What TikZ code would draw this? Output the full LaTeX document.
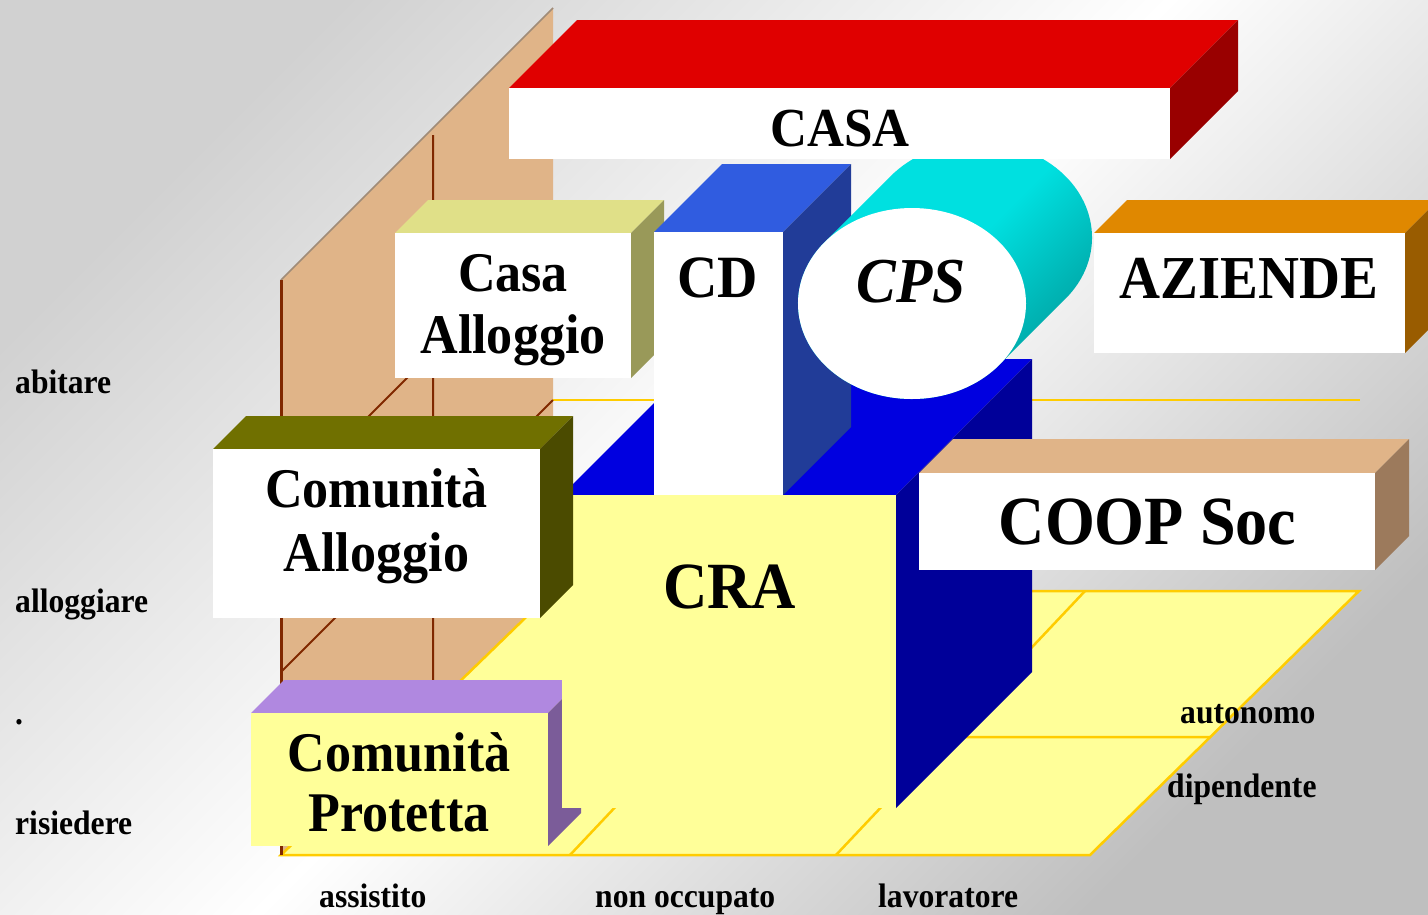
\documentclass[tikz,border=0pt]{standalone}
\usepackage{fontspec}
\setmainfont{Liberation Serif}[FakeStretch=0.93]
\usepackage{tikz}
\definecolor{cuoio}{HTML}{E0B488}
\definecolor{cuoioscuro}{HTML}{9C7A5C}
\definecolor{bordomuro}{HTML}{A08C78}
\definecolor{mattone}{HTML}{802800}
\definecolor{paglia}{HTML}{FFFF99}
\definecolor{oro}{HTML}{FFCC00}
\definecolor{rosso}{HTML}{E00000}
\definecolor{rossoscuro}{HTML}{990000}
\definecolor{blu}{HTML}{305CE0}
\definecolor{bluscuro}{HTML}{213C98}
\definecolor{elettrico}{HTML}{0000E0}
\definecolor{notte}{HTML}{000099}
\definecolor{ciano}{HTML}{00E0E0}
\definecolor{petrolio}{HTML}{009A9A}
\definecolor{limone}{HTML}{E0E088}
\definecolor{oliva}{HTML}{999959}
\definecolor{muschio}{HTML}{707000}
\definecolor{muschioscuro}{HTML}{4B4B00}
\definecolor{lilla}{HTML}{B088E0}
\definecolor{viola}{HTML}{7B5C99}
\definecolor{arancio}{HTML}{E08800}
\definecolor{ruggine}{HTML}{995C00}
\tikzset{
  grande/.style 2 args={inner sep=0pt, align=center, font=\fontsize{#1}{#2}\selectfont\bfseries},
  livello/.style={inner sep=0pt, anchor=base west, font=\fontsize{34}{38}\selectfont\bfseries},
}

\begin{document}
\begin{tikzpicture}[x=1pt, y=-1pt]
    \def\blocco#1#2#3#4#5#6#7#8{
      \fill [#7] (#1,#2) -- (#1+#5,#2-#5) -- (#3+#5,#2-#5) -- (#3,#2) -- cycle ;
      \fill [#8] (#3,#2) -- (#3+#5,#2-#5) -- (#3+#5,#4-#5) -- (#3,#4) -- cycle ;
      \fill [#6] (#1,#2) rectangle (#3,#4) ;
    }
    \useasboundingbox (0,0) rectangle (1428,914) ;
    \shade [top color=gray!36, bottom color=gray!50, middle color=white, shading angle=45] (0,0) rectangle (1428,914) ;
    \fill [cuoio] (281,855) -- (281,280) -- (553,8) -- (553,591) -- cycle ;
    \draw [bordomuro, line width=1.5pt] (281,280) -- (553,8) ;
    \draw [oro, line width=2.5pt, fill=paglia] (281,855) -- (1090,855) -- (1359,591) -- (553,591) -- cycle ;
    \draw [oro, line width=2.5pt] (570,855) -- (819,591) (836,855) -- (1085,591) (402,737) -- (1210,737) ;
    \draw [oro, line width=2.5pt] (553,400) -- (1360,400) ;
    \draw [mattone, line width=3pt] (281,280) -- (281,855) ;
    \draw [mattone, line width=2pt] (433,135) -- (433,706) (281,504) -- (553,232) (281,672) -- (553,400) ;
    \blocco{251}{713}{548}{846}{33}{paglia}{lilla}{viola}
    \blocco{395}{233}{631}{378}{33}{white}{limone}{oliva}
    \blocco{562}{495}{896}{808}{136}{paglia}{elettrico}{notte}
    \blocco{654}{232}{783}{495}{68}{white}{blu}{bluscuro}
    \shade [top color=ciano, bottom color=petrolio, middle color=ciano, shading angle=45]
      (890.7,176.1) arc [start angle=220, end angle=400, x radius=114, y radius=95.5]
      -- (999.3,364.9) arc [start angle=40, end angle=220, x radius=114, y radius=95.5] -- cycle ;
    \fill [white] (912,303.5) ellipse [x radius=114, y radius=95.5] ;
    \blocco{509}{88}{1170}{159}{68}{white}{rosso}{rossoscuro}
    \blocco{213}{449}{540}{618}{33}{white}{muschio}{muschioscuro}
    \blocco{1094}{233}{1405}{353}{33}{white}{arancio}{ruggine}
    \blocco{919}{473}{1375}{570}{34}{white}{cuoio}{cuoioscuro}
    \node [grande={55}{60}] (casa) at (840,128.5) {CASA} ;
    \node [grande={60}{64}] (cd) at (718,277.5) {CD} ;
    \node [grande={64}{70}] (cps) at (911,281.5) {\itshape CPS} ;
    \node [grande={61}{66}] (aziende) at (1249,278) {AZIENDE} ;
    \node [grande={69}{74}] (coop) at (1147.5,521.5) {COOP Soc} ;
    \node [grande={66}{72}] (cra) at (729.5,587) {CRA} ;
    \node [grande={56}{62}] (casaall) at (513,310) {Casa\\Alloggio} ;
    \node [grande={56}{64}] (comall) at (376.5,526.5) {Comunità\\Alloggio} ;
    \node [grande={56}{60}] (comprot) at (399,782.5) {Comunità\\Protetta} ;
    \foreach \t/\y [count=\n] in {abitare/393, alloggiare/612, ./724, risiedere/834} {
      \node [livello] (liv\n) at (15,\y) {\t} ;
    }
    \foreach \t/\x [count=\n] in {assistito/319, non occupato/595, lavoratore/878} {
      \node [livello] (stato\n) at (\x,907) {\t} ;
    }
    \node [livello] (auto) at (1180,723) {autonomo} ;
    \node [livello] (dip) at (1167,797) {dipendente} ;
  \end{tikzpicture}
\end{document}
